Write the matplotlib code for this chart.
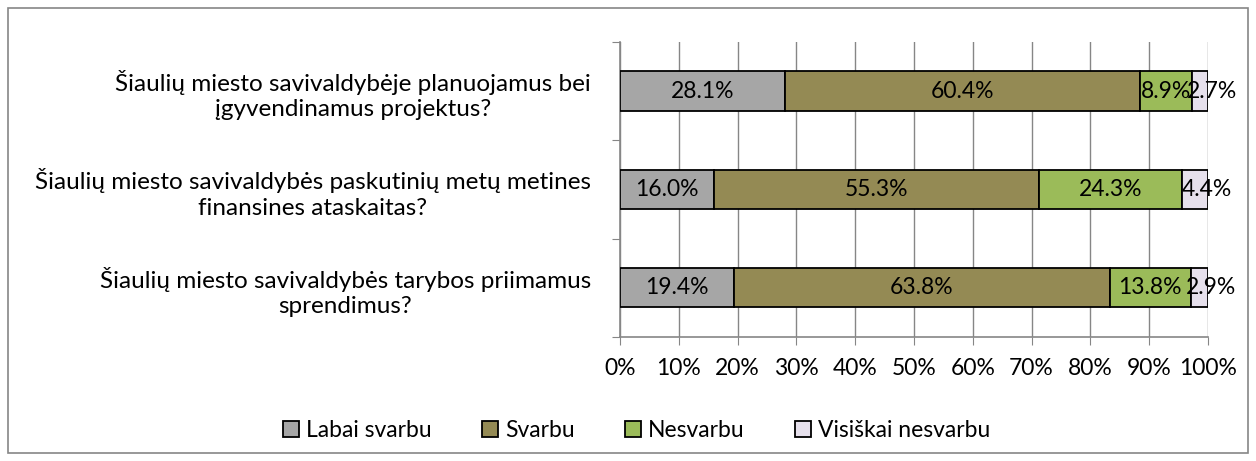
import matplotlib
matplotlib.use("Agg")
import matplotlib.pyplot as plt
from matplotlib.patches import Rectangle
import numpy as np

plt.rcParams['font.family'] = ['Lato', 'DejaVu Sans']

# data (top to bottom as drawn)
questions = [
    "Šiaulių miesto savivaldybėje planuojamus bei\nįgyvendinamus projektus?",
    "Šiaulių miesto savivaldybės paskutinių metų metines\nfinansines ataskaitas?",
    "Šiaulių miesto savivaldybės tarybos priimamus\nsprendimus?",
]
series_names = ["Labai svarbu", "Svarbu", "Nesvarbu", "Visiškai nesvarbu"]
labai_svarbu = [28.1, 16.0, 19.4]
svarbu = [60.4, 55.3, 63.8]
nesvarbu = [8.9, 24.3, 13.8]
visiskai_nesvarbu = [2.7, 4.4, 2.9]
colors = ["#A6A6A6", "#948A54", "#9BBB59", "#E6E0EC"]

values = np.array([labai_svarbu, svarbu, nesvarbu, visiskai_nesvarbu])
shares = values / values.sum(axis=0)  # 100% stacked

fs = 16.5
fig = plt.figure(figsize=(12.56, 4.61), dpi=100)
ax = fig.add_axes([0.4936, 0.269, 0.9618 - 0.4936, 0.9089 - 0.269])

y = np.arange(len(questions))
left = np.zeros(len(questions))
for i, name in enumerate(series_names):
    ax.barh(y, shares[i], left=left, height=0.4, color=colors[i],
            edgecolor='black', linewidth=1.3, label=name, zorder=3)
    for j in range(len(questions)):
        cx = left[j] + shares[i][j] / 2
        dx = 12 if i == len(series_names) - 1 else 0
        ax.annotate(f"{values[i][j]:.1f}%", (cx, y[j]), xytext=(dx, 0),
                    textcoords='offset pixels', ha='center', va='center',
                    fontsize=fs, zorder=4, annotation_clip=False)
    left += shares[i]

ax.set_xlim(0, 1)
ax.set_ylim(len(questions) - 0.5, -0.5)
ax.set_xticks(np.linspace(0, 1, 11))
ax.set_xticklabels([f"{int(round(t * 100))}%" for t in np.linspace(0, 1, 11)], fontsize=fs)
ax.set_yticks(np.arange(-0.5, len(questions), 1.0))
ax.set_yticklabels([])
ax.set_yticks(y, minor=True)
ax.set_yticklabels(questions, minor=True, fontsize=17.5, multialignment='center',
                   linespacing=1.25)
ax.tick_params(axis='y', which='minor', length=0, pad=21)
ax.tick_params(axis='y', which='major', length=6, color='#868686', direction='out')
ax.tick_params(axis='x', length=6, color='#868686', direction='out', pad=9)
ax.xaxis.grid(True, color='#868686', linewidth=1, zorder=0)
ax.set_axisbelow(True)
for s in ['top', 'right']:
    ax.spines[s].set_visible(False)
for s in ['left', 'bottom']:
    ax.spines[s].set_color('#868686')
    ax.spines[s].set_linewidth(1.2)

fig.legend(loc='center', bbox_to_anchor=(0.507, 0.067), ncol=4, frameon=False,
           fontsize=fs, handlelength=0.7, handleheight=0.7, handletextpad=0.3,
           columnspacing=2.2)

fig.patches.append(Rectangle((8 / 1256, 8 / 461), 1240 / 1256, 445 / 461,
                             transform=fig.transFigure, fill=False,
                             edgecolor='#868686', linewidth=1.2))

fig.savefig("out.png", dpi=100)
